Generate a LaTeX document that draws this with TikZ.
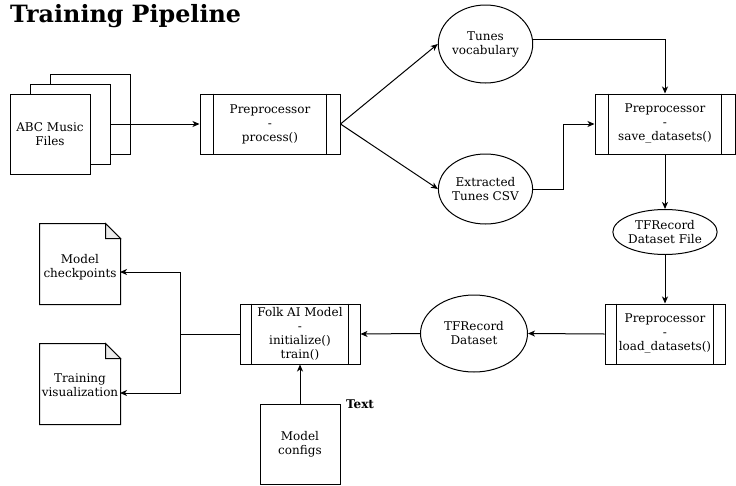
\documentclass[tikz,border=0pt]{standalone}
\usepackage{fontspec}
\setmainfont{DejaVu Serif}
\usetikzlibrary{arrows.meta,shapes.geometric,calc}
\definecolor{foldgray}{HTML}{EBEBEB}
\tikzset{
  base/.style={font=\fontsize{12}{14}\selectfont, align=center, inner sep=0pt, line width=1pt},
  box/.style={base, draw, rectangle, minimum width=#1},
  ell/.style={base, draw, ellipse},
  conn/.style={line width=1pt, -{Stealth[length=7pt,width=6pt,inset=2pt]}},
  plain/.style={line width=1pt},
  notebox/.style={base, rectangle, minimum width=80pt, minimum height=80pt},
}
\newcommand{\procbars}[2]{%
  \draw[plain] ([xshift=#2]#1.north west) -- ([xshift=#2]#1.south west);
  \draw[plain] ([xshift=-#2]#1.north east) -- ([xshift=-#2]#1.south east);}
\newcommand{\notedoc}[1]{%
  \draw[plain, fill=white] (#1.north west) -- ([xshift=-15pt]#1.north east) -- ([yshift=-15pt]#1.north east) -- (#1.south east) -- (#1.south west) -- cycle;
  \draw[plain, fill=foldgray] ([xshift=-15pt]#1.north east) -- ([xshift=-15pt,yshift=-15pt]#1.north east) -- ([yshift=-15pt]#1.north east) -- cycle;}
\begin{document}
\begin{tikzpicture}[x=1pt,y=-1pt]
\useasboundingbox (0,0) rectangle (736,485);
% title
\node[anchor=base west, inner sep=0pt, font=\fontsize{23.8}{28}\selectfont\bfseries] (title) at (10,22.7) {Training Pipeline};
% ABC stacked files
\node[box=80pt, minimum height=80pt, fill=white] (abc3) at (90,114) {};
\node[box=80pt, minimum height=80pt, fill=white] (abc2) at (70,124) {};
\node[box=80pt, minimum height=80pt, fill=white] (abc1) at (50,134) {ABC Music\\Files};
% preprocessor process
\node[box=140pt, minimum height=60pt] (proc) at (270,124) {Preprocessor\\-\\process()};
\procbars{proc}{14pt}
% ellipses
\node[ell, minimum width=90pt, minimum height=78pt] (tv) at (485.5,44) {Tunes\\vocabulary};
\node[ell, minimum width=90pt, minimum height=70pt] (csv) at (485.5,189) {Extracted\\Tunes CSV};
% save datasets
\node[box=140pt, minimum height=60pt] (save) at (665,124) {Preprocessor\\-\\save\_datasets()};
\procbars{save}{14pt}
% TFRecord file
\node[ell, minimum width=101pt, minimum height=45pt] (tff) at (665,232) {TFRecord\\Dataset File};
% load datasets
\node[box=120pt, minimum height=60pt] (load) at (665,334) {Preprocessor\\-\\load\_datasets()};
\procbars{load}{12pt}
% TFRecord Dataset
\node[ell, minimum width=107pt, minimum height=77pt] (tfd) at (474,333.5) {TFRecord\\Dataset};
% Folk AI model
\node[box=120pt, minimum height=60pt] (folk) at (300,334) {Folk AI Model\\-\\initialize()\\train()};
\procbars{folk}{12pt}
% model configs
\node[box=80pt, minimum height=80pt] (cfg) at (300,444) {Model\\configs};
\node[inner sep=0pt, font=\fontsize{12}{14}\selectfont\bfseries] (txt) at (360,404) {Text};
% documents
\node[notebox] (ckpt) at (80,264) {};
\notedoc{ckpt}
\node[base] (ckptt) at (80,267) {Model\\checkpoints};
\node[notebox] (vis) at (80,384) {};
\notedoc{vis}
\node[base] (vist) at (80,385) {Training\\visualization};
% connectors
\draw[conn] (abc2.east) -- (proc.west);
\draw[conn] (proc.east) -- (tv.west);
\draw[conn] (proc.east) -- (csv.west);
\draw[conn] (tv.6) -| (save.north);
\coordinate (mid) at (563,124);
\draw[conn] (csv.east) -| (mid) -- (save.west);
\draw[conn] (save.south) -- (tff.north);
\draw[conn] (tff.south) -- (load.north);
\draw[conn] (load.west) -- (tfd.east);
\draw[conn] (tfd.west) -- (folk.east);
\draw[conn] (cfg.north) -- (folk.south);
\coordinate (br) at (180,334);
\coordinate (ck) at (120,272);
\coordinate (vz) at (120,393);
\draw[plain] (folk.west) -- (br);
\draw[conn] (br) |- (ck);
\draw[conn] (br) |- (vz);
\end{tikzpicture}
\end{document}
